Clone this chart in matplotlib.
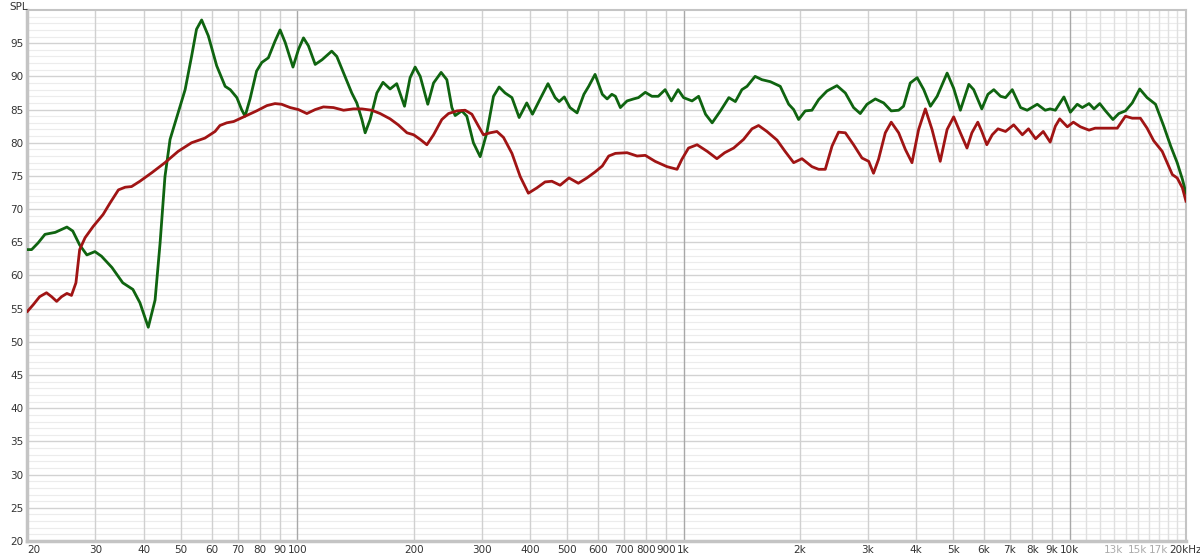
import matplotlib
matplotlib.use("Agg")
import matplotlib.pyplot as plt
import numpy as np

# green trace (Hz, dB)
green_f = [20, 20.5, 21.3, 22.2, 23.6, 25.3, 26.2, 27.3, 28.5, 29.9, 31.1, 33.1, 35.3, 37.5,
           39.1, 41.1, 42.8, 44.1, 45.4, 46.8, 49.1, 51.2, 53.2, 54.8, 56.5, 58.8, 61.8, 65.0,
           67.0, 69.7, 71.7, 73.2, 75.4, 78.4, 80.9, 84.1, 87.5, 90.2, 93.0, 97.4, 100.7, 103.7,
           106.8, 111.2, 115.8, 122.7, 126.5, 131.7, 138.3, 142.5, 146.9, 149.8, 154.3, 160.6,
           166.6, 173.8, 180.8, 189.4, 195.8, 201.8, 208, 217.6, 225.2, 235.6, 243.8, 251.2,
           256.2, 266.6, 274.6, 285.6, 297.4, 309.4, 322, 333, 345, 359.4, 375.2, 392.6, 406.2,
           425.2, 445.6, 465, 476.2, 491, 508, 530, 552, 568, 590, 616, 634, 652, 666, 686, 714,
           742, 764, 796, 828, 860, 896, 930, 968, 1000, 1052, 1094, 1140, 1186, 1246, 1310,
           1362, 1416, 1460, 1532, 1596, 1678, 1780, 1872, 1928, 1986, 2066, 2150, 2238, 2352,
           2496, 2624, 2756, 2868, 2986, 3138, 3298, 3450, 3606, 3712, 3864, 4026, 4188, 4358,
           4536, 4814, 5006, 5210, 5480, 5640, 5920, 6140, 6360, 6620, 6820, 7100, 7460, 7760,
           8240, 8640, 8900, 9180, 9660, 10040, 10460, 10780, 11220, 11560, 11960, 12380, 12940,
           13400, 13940, 14520, 15180, 15860, 16680, 17520, 18260, 18980, 19580, 20000]
green_db = [63.9, 63.9, 64.9, 66.2, 66.5, 67.3, 66.7, 64.6, 63.1, 63.6, 62.9, 61.2, 58.9, 57.9,
            55.9, 52.2, 56.3, 64.9, 74.9, 80.5, 84.5, 88.0, 93.0, 97.1, 98.5, 96.1, 91.6, 88.5,
            88.0, 86.8, 85.0, 84.0, 86.6, 90.8, 92.1, 92.8, 95.3, 97.0, 95.1, 91.4, 94.1, 95.8,
            94.6, 91.8, 92.5, 93.8, 93.0, 90.5, 87.5, 86.0, 83.5, 81.5, 83.5, 87.5,
            89.1, 88.1, 88.9, 85.5, 89.8, 91.4, 90.0, 85.8, 89.0, 90.6, 89.5, 85.3,
            84.1, 84.8, 84.0, 80.0, 77.9, 81.5, 87.0, 88.4, 87.5, 86.8, 83.8, 86.0, 84.3,
            86.6, 88.9, 86.8, 86.2, 86.9, 85.3, 84.5, 87.3, 88.5, 90.3, 87.3, 86.6, 87.3, 87.0, 85.3, 86.3,
            86.6, 86.8, 87.6, 87.0, 87.0, 88.0, 86.3, 88.0, 86.8, 86.3, 87.0, 84.3, 83.0, 84.8, 86.8,
            86.2, 88.0, 88.5, 90.0, 89.5, 89.2, 88.5, 85.8, 85.0, 83.5, 84.8, 84.9, 86.5, 87.8,
            88.6, 87.5, 85.3, 84.4, 85.8, 86.6, 86.0, 84.8, 84.9, 85.5, 89.0, 89.8, 88.0, 85.5,
            87.0, 90.5, 88.2, 84.9, 88.8, 88.0, 85.1, 87.3, 88.0, 87.0, 86.8, 88.0, 85.3, 84.9,
            85.8, 84.9, 85.1, 84.9, 86.9, 84.6, 85.8, 85.3, 85.9, 85.1, 85.9, 84.8, 83.5,
            84.4, 84.8, 86.0, 88.1, 86.8, 85.8, 82.5, 79.5, 77.0, 74.5, 72.4]

# red trace (Hz, dB)
red_f = [20, 20.7, 21.5, 22.4, 23.1, 23.8, 24.5, 25.3, 26.0, 26.7, 27.3, 28.2, 29.6, 31.4, 32.7,
         34.4, 35.8, 37.2, 39.1, 42.0, 45.4, 49.1, 53.2, 57.6, 61.2, 63.0, 65.6, 68.4, 73.2,
         78.4, 83.4, 87.5, 91.0, 95.8, 100.6, 105.8, 111.2, 116.8, 124, 131.7, 139.6, 146.9,
         155.8, 163.8, 173.8, 182.4, 192.2, 200, 208, 216.4, 225.2, 236.6, 246.2, 258.8, 271.8,
         283, 294.4, 303.2, 315.6, 328.6, 341.8, 359.4, 377.6, 396.4, 417, 438, 456, 479, 505,
         534, 562, 590, 616, 640, 666, 714, 758, 796, 844, 906, 962, 990, 1030, 1084, 1152,
         1220, 1278, 1348, 1430, 1504, 1564, 1644, 1746, 1832, 1928, 2026, 2150, 2238, 2328,
         2424, 2520, 2624, 2756, 2898, 3016, 3104, 3198, 3330, 3450, 3606, 3752, 3904, 4062,
         4228, 4400, 4620, 4814, 5006, 5210, 5420, 5580, 5780, 5920, 6100, 6300, 6520, 6820,
         7160, 7540, 7820, 8160, 8540, 8900, 9180, 9420, 9860, 10220, 10660, 11220, 11640,
         12500, 13280, 13940, 14520, 15240, 15860, 16500, 17360, 17880, 18440, 18980, 19580, 20000]
red_db = [54.6, 55.6, 56.8, 57.4, 56.8, 56.1, 56.8, 57.3, 57.0, 58.9, 63.9, 65.7, 67.4, 69.2, 70.9,
          72.9, 73.3, 73.4, 74.2, 75.5, 77.0, 78.7, 80.0, 80.7, 81.7, 82.6, 83.0, 83.2, 84.0,
          84.8, 85.6, 85.9, 85.8, 85.3, 85.0, 84.4, 85.0, 85.4, 85.3, 84.9, 85.1, 85.1,
          84.9, 84.4, 83.6, 82.7, 81.5, 81.2, 80.5, 79.7, 81.2, 83.5, 84.4, 84.8, 84.9,
          84.3, 82.5, 81.2, 81.5, 81.7, 80.8, 78.4, 74.9, 72.4, 73.2, 74.1, 74.2, 73.6, 74.7,
          73.9, 74.7, 75.6, 76.5, 78.0, 78.4, 78.5, 78.0, 78.1, 77.2, 76.4, 76.0, 77.5, 79.2, 79.7, 78.7,
          77.6, 78.5, 79.2, 80.5, 82.1, 82.6, 81.7, 80.4, 78.7, 77.0, 77.6, 76.4, 76.0, 76.0,
          79.5, 81.6, 81.5, 79.7, 77.7, 77.2, 75.4, 77.5, 81.5, 83.1, 81.5, 79.0, 77.0, 82.0,
          85.1, 82.0, 77.2, 82.0, 83.9, 81.5, 79.2, 81.5, 83.1, 81.7, 79.7, 81.2, 82.1, 81.7,
          82.7, 81.2, 82.1, 80.6, 81.7, 80.1, 82.5, 83.6, 82.4, 83.1, 82.4, 81.9, 82.2,
          82.2, 82.2, 84.0, 83.7, 83.7, 82.2, 80.3, 78.7, 77.0, 75.2, 74.7, 73.2, 71.2]

y_ticks = list(range(20, 100, 5))
x_ticks = [20, 30, 40, 50, 60, 70, 80, 90, 100, 200, 300, 400, 500, 600, 700, 800, 900,
           1000, 2000, 3000, 4000, 5000, 6000, 7000, 8000, 9000, 10000, 13000, 15000, 17000, 20000]
x_labels = ['20', '30', '40', '50', '60', '70', '80', '90', '100', '200', '300', '400', '500',
            '600', '700', '800', '900', '1k', '2k', '3k', '4k', '5k', '6k', '7k', '8k', '9k',
            '10k', '13k', '15k', '17k', '20kHz']
faint_labels = ['13k', '15k', '17k']

fig = plt.figure(figsize=(12, 5.56), dpi=100)
ax = fig.add_axes([0.0229, 0.027, 0.9654, 0.955])
ax.set_xscale('log')
ax.set_xlim(20, 20000)
ax.set_ylim(20, 100)

# grid
for v in range(21, 100):
    if v % 5:
        ax.axhline(v, color='#ececec', lw=0.8, zorder=0)
for v in range(25, 100, 5):
    ax.axhline(v, color='#d2d2d2', lw=1.0, zorder=0)
vlines = [m * d for d in (10, 100, 1000) for m in range(2, 10)] + list(range(11000, 20000, 1000))
for v in vlines:
    c = '#e0e0e0' if v > 10000 else '#d0d0d0'
    ax.axvline(v, color=c, lw=1.0, zorder=0)
for v in (100, 1000, 10000):
    ax.axvline(v, color='#a8a8a8', lw=1.0, zorder=0)

ax.plot(green_f, green_db, color='#0f6410', lw=2.0, solid_joinstyle='round', zorder=3)
ax.plot(red_f, red_db, color='#a01414', lw=2.0, solid_joinstyle='round', zorder=3)

ax.set_yticks(y_ticks)
ax.set_yticklabels([str(t) for t in y_ticks])
ax.set_xticks(x_ticks)
ax.set_xticklabels(x_labels)
ax.minorticks_off()
ax.tick_params(axis='both', length=0, labelsize=7.5, labelcolor='#333333')
ax.tick_params(axis='y', pad=3)
ax.tick_params(axis='x', pad=3)
xl = ax.get_xticklabels()
xl[0].set_ha('left')
for t in xl:
    if t.get_text() in faint_labels:
        t.set_color('#aaaaaa')

for s in ax.spines.values():
    s.set_color('#c4c4c4')
    s.set_linewidth(1.5)
ax.spines['left'].set_linewidth(2.5)
ax.spines['bottom'].set_linewidth(2.5)

fig.text(0.008, 0.997, 'SPL', fontsize=7.5, color='#333333', va='top', ha='left')

plt.savefig('out.png', dpi=100)
